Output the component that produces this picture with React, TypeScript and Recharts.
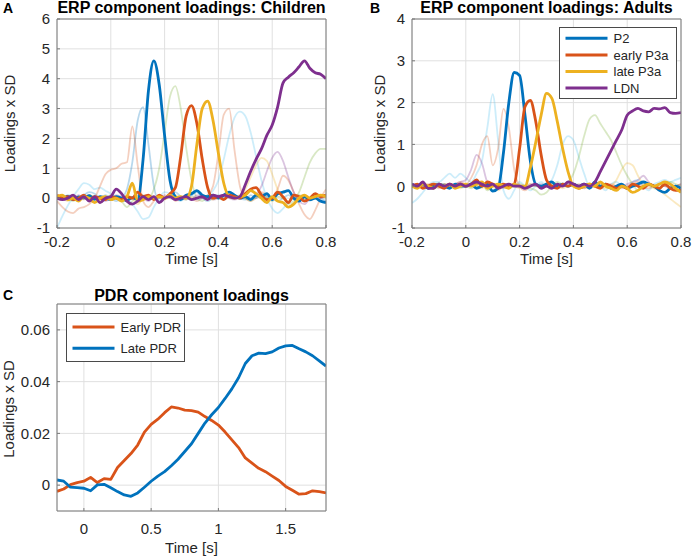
import { LineChart, Line, XAxis, YAxis, CartesianGrid } from "recharts";

const FONT = "'Liberation Sans', Arial, Helvetica, sans-serif";
const C = {
  blue: "#0072BD",
  orange: "#D95319",
  yellow: "#EDB120",
  purple: "#7E2F8E",
  green: "#77AC30",
  cyan: "#4DBEEE",
  ink: "#262626",
  grid: "#e0e0e0",
  box: "#7a7a7a",
};

// ERP time axis (s)
const tErp = [
  -0.2, -0.18, -0.16, -0.14, -0.12, -0.1, -0.08, -0.06, -0.04, -0.02,
  0, 0.02, 0.04, 0.06, 0.08, 0.1, 0.12, 0.14, 0.16, 0.18,
  0.2, 0.22, 0.24, 0.26, 0.28, 0.3, 0.32, 0.34, 0.36, 0.38,
  0.4, 0.42, 0.44, 0.46, 0.48, 0.5, 0.52, 0.54, 0.56, 0.58,
  0.6, 0.62, 0.64, 0.66, 0.68, 0.7, 0.72, 0.74, 0.76, 0.78, 0.8,
];

// Children: highlighted components
const p2Kids = [
  0.05, -0.02, 0.06, -0.05, 0.04, 0.0, 0.08, -0.04, 0.05, 0.0,
  -0.05, 0.05, 0.0, -0.08, 0.02, -0.05, 1.3, 3.6, 4.6, 3.8,
  2.1, 0.6, 0.05, -0.05, 0.1, 0.15, 0.25, 0.1, 0.05, 0.1,
  0.0, 0.1, 0.2, 0.1, 0.0, 0.05, -0.05, 0.1, 0.05, 0.15,
  -0.05, 0.15, 0.2, 0.25, 0.0, -0.1, 0.05, -0.05, 0.0, -0.1, -0.15,
];
const earlyKids = [
  0.1, 0.0, 0.05, -0.05, 0.0, 0.1, -0.05, 0.05, 0.0, -0.05,
  0.05, 0.0, -0.05, 0.05, 0.0, 0.2, 0.05, 0.1, -0.05, 0.1,
  0.0, 0.15, 0.35, 1.4, 2.75, 3.1, 2.5, 1.3, 0.35, 0.0,
  0.05, -0.05, 0.1, 0.05, 0.0, 0.15, 0.3, 0.35, 0.1, -0.05,
  0.0, 0.2, 0.05, -0.15, 0.1, 0.05, -0.1, 0.0, 0.15, 0.05, 0.1,
];
const lateKids = [
  0.05, 0.1, -0.05, 0.0, -0.1, 0.05, 0.0, -0.15, 0.0, 0.05,
  -0.05, 0.0, -0.1, 0.05, 0.5, -0.1, -0.05, 0.05, 0.0, 0.05,
  0.0, 0.1, 0.0, 0.05, 0.0, 0.4, 1.8, 3.0, 3.25, 2.6,
  1.5, 0.5, 0.05, 0.0, 0.05, 0.1, 0.25, 0.15, 0.0, -0.15,
  0.05, -0.1, -0.15, -0.3, -0.2, 0.0, 0.1, 0.0, 0.05, 0.1, 0.05,
];
const ldnKids = [
  0.0, -0.05, 0.0, 0.1, -0.05, 0.05, -0.1, 0.05, -0.15, 0.0,
  0.05, 0.3, 0.15, -0.1, -0.2, -0.1, 0.05, -0.05, 0.05, -0.15,
  0.0, 0.05, -0.05, 0.0, 0.05, -0.05, 0.0, 0.05, -0.05, 0.1,
  0.05, 0.1, 0.05, 0.0, 0.05, 0.45, 0.9, 1.3, 1.65, 2.1,
  2.45, 3.05, 3.85, 4.05, 4.2, 4.4, 4.6, 4.35, 4.2, 4.15, 4.0,
];
// Children: other components (faint)
const cyanKids = [
  -1.0, -0.6, -0.25, 0.05, 0.3, 0.5, 0.45, 0.3, 0.35, 0.25,
  0.15, 0.0, -0.1, -0.05, -0.2, -0.45, -0.7, -0.65, -0.3, 0.0,
  0.2, 0.15, 0.0, -0.1, 0.05, 0.1, -0.05, 0.0, 0.1, 0.25,
  0.6, 1.3, 2.1, 2.7, 2.9, 2.75, 2.2, 1.4, 0.6, 0.0,
  -0.35, -0.5, -0.35, -0.15, 0.0, 0.1, 0.0, -0.1, 0.05, 0.1, 0.0,
];
const blueKids = [
  0.1, 0.0, 0.1, 0.05, -0.05, 0.1, 0.2, 0.15, 0.0, 0.1,
  0.0, -0.1, 0.0, 0.3, 1.2, 2.6, 3.05, 1.8, 0.4, -0.1,
  0.0, 0.1, 0.2, 0.05, -0.05, 0.1, 0.2, 0.0, -0.1, 0.0,
  0.1, 0.0, 0.05, 0.1, 0.0, -0.05, 0.1, 0.0, 0.15, 0.05,
  0.0, -0.1, 0.0, 0.1, 0.0, 0.05, -0.05, 0.0, 0.1, 0.0, -0.1,
];
const pinkKids = [
  -0.1, -0.3, -0.45, -0.5, -0.35, -0.3, -0.2, 0.0, 0.4, 0.8,
  0.95, 1.0, 1.15, 1.2, 2.4, 1.1, -0.1, -0.3, -0.1, 0.1,
  0.0, 0.1, -0.1, 0.0, 0.1, 0.0, -0.1, 0.0, 0.1, 0.4,
  1.5, 2.8, 3.0, 1.6, 0.4, 0.0, -0.1, 0.0, 0.2, 0.1,
  0.0, 0.3, 0.75, 0.6, 0.2, -0.2, -0.55, -0.7, -0.4, 0.0, 0.3,
];
const greenKids = [
  0.05, 0.1, 0.0, -0.1, 0.05, 0.0, 0.1, 0.05, -0.05, 0.0,
  0.1, 0.05, -0.1, -0.3, -0.1, 0.05, 0.1, 0.0, 0.3, 1.0,
  2.2, 3.4, 3.75, 3.0, 1.7, 0.6, 0.0, -0.1, 0.05, 0.1,
  0.0, -0.05, 0.1, 0.0, 0.05, 0.0, -0.1, 0.05, 0.1, 0.0,
  -0.1, 0.05, 0.0, -0.2, -0.1, 0.2, 0.7, 1.2, 1.5, 1.65, 1.65,
];
const mauveKids = [
  0.0, 0.05, -0.05, 0.0, 0.1, 0.0, -0.05, 0.05, 0.0, -0.1,
  0.0, 0.1, 0.05, -0.05, 0.0, 0.1, 0.0, -0.1, 0.05, 0.0,
  0.1, 0.0, -0.05, 0.05, 0.0, -0.05, 0.1, 0.0, 0.05, -0.05,
  0.0, 0.1, 0.0, -0.05, 0.0, 0.05, 0.0, 0.1, 0.4, 0.9,
  1.35, 1.55, 1.25, 0.7, 0.2, -0.1, -0.2, 0.0, 0.1, 0.0, 0.05,
];
const sandKids = [
  0.1, 0.0, -0.1, 0.05, 0.0, -0.05, 0.1, 0.0, -0.1, 0.05,
  0.0, 0.05, -0.05, 0.1, 0.0, -0.2, 0.0, 0.1, 0.05, 0.0,
  -0.05, 0.05, 0.1, 0.0, -0.05, 0.05, 0.0, 0.1, 0.0, -0.05,
  0.05, 0.0, 0.1, 0.05, 0.1, 0.3, 0.7, 1.1, 1.35, 1.25,
  0.8, 0.3, 0.0, -0.1, 0.05, 0.1, 0.0, -0.05, 0.1, 0.05, 0.0,
];

// Adults: highlighted components
const p2Adults = [
  0.05, 0.0, 0.05, -0.05, 0.0, 0.05, 0.0, -0.05, 0.05, 0.0,
  0.0, 0.05, -0.05, 0.0, 0.05, -0.12, -0.05, 0.8, 2.0, 2.72,
  2.65, 1.7, 0.6, 0.05, 0.0, 0.05, 0.1, 0.0, 0.05, 0.0,
  0.05, 0.0, 0.05, -0.05, 0.1, 0.0, 0.05, -0.05, 0.0, 0.05,
  -0.05, 0.0, 0.05, 0.1, 0.05, 0.0, -0.1, -0.15, -0.05, 0.0, -0.05,
];
const earlyAdults = [
  0.0, 0.05, -0.05, 0.0, 0.05, 0.0, -0.05, 0.05, 0.0, 0.05,
  0.0, 0.05, 0.15, 0.0, 0.1, 0.05, 0.0, 0.05, 0.0, 0.05,
  0.9, 1.9, 2.05, 1.55, 0.75, 0.15, 0.0, -0.05, 0.05, 0.0,
  0.05, -0.05, 0.0, 0.05, 0.0, -0.05, 0.05, 0.0, -0.05, 0.0,
  -0.05, 0.05, 0.0, -0.05, 0.05, 0.0, -0.05, 0.05, -0.05, -0.1, -0.1,
];
const lateAdults = [
  0.0, -0.05, 0.05, 0.0, -0.05, 0.05, 0.0, 0.05, -0.05, 0.0,
  0.05, 0.0, 0.05, 0.1, -0.05, 0.0, 0.05, 0.0, -0.05, 0.05,
  0.0, 0.0, 0.45, 1.05, 1.7, 2.22, 2.1, 1.55, 0.9, 0.35,
  0.0, -0.05, 0.0, 0.05, 0.0, 0.1, 0.0, -0.05, -0.1, 0.0,
  -0.05, -0.15, -0.1, 0.0, 0.05, 0.0, 0.05, 0.1, 0.05, -0.05, -0.15,
];
const ldnAdults = [
  0.05, 0.0, 0.1, -0.05, -0.05, 0.05, 0.0, 0.05, 0.0, 0.05,
  0.0, 0.05, 0.1, 0.05, 0.0, 0.05, -0.05, 0.0, 0.05, 0.0,
  0.0, -0.05, 0.0, 0.05, -0.05, 0.0, -0.05, 0.05, 0.0, 0.1,
  0.05, 0.0, 0.05, 0.0, 0.1, 0.35, 0.6, 0.85, 1.1, 1.35,
  1.7, 1.8, 1.86, 1.8, 1.78, 1.86, 1.85, 1.88, 1.76, 1.74, 1.76,
];
// Adults: other components (faint)
const cyanAdults = [
  -0.4, -0.3, -0.15, 0.0, 0.1, 0.1, 0.2, 0.3, 0.2, 0.3,
  0.2, 0.1, 0.3, 0.6, 1.4, 2.2, 1.1, -0.1, -0.3, -0.1,
  0.1, 0.0, -0.1, 0.0, 0.1, 0.0, 0.15, 0.5, 1.0, 1.2,
  1.1, 0.7, 0.3, 0.0, 0.05, 0.0, -0.1, 0.05, 0.1, 0.0,
  -0.05, 0.1, 0.15, 0.0, -0.1, 0.05, 0.1, 0.15, 0.1, 0.15, 0.2,
];
const pinkAdults = [
  0.0, 0.05, 0.0, 0.05, 0.0, -0.05, 0.05, 0.0, 0.05, 0.1,
  0.05, 0.2, 0.5, 1.0, 1.2, 0.5, 0.9, 1.85, 1.4, 0.4,
  0.0, -0.1, 0.0, 0.05, 0.0, 0.05, 0.0, -0.05, 0.0, 0.05,
  0.0, 0.05, 0.0, -0.05, 0.0, 0.05, 0.0, 0.05, 0.0, -0.05,
  0.0, 0.05, 0.1, 0.0, -0.05, 0.0, 0.05, 0.0, 0.05, 0.0, 0.05,
];
const mauveAdults = [
  0.0, 0.05, 0.0, -0.05, 0.05, 0.0, 0.05, 0.0, 0.05, 0.1,
  0.15, 0.4, 0.75, 0.55, 0.1, 0.0, 0.05, -0.05, 0.0, 0.05,
  0.0, -0.05, 0.05, 0.0, 0.05, 0.0, -0.05, 0.0, 0.05, 0.0,
  0.05, 0.0, -0.05, 0.0, 0.05, 0.0, 0.05, 0.0, -0.05, 0.0,
  0.05, 0.1, 0.15, 0.25, 0.1, 0.0, 0.05, 0.0, -0.05, 0.0, 0.05,
];
const greenAdults = [
  0.0, -0.05, 0.05, 0.0, -0.05, 0.0, 0.05, 0.0, -0.05, 0.05,
  0.0, -0.05, 0.0, 0.05, -0.1, 0.0, 0.05, 0.0, -0.05, 0.0,
  0.05, 0.0, -0.05, -0.1, -0.2, -0.15, 0.0, 0.1, 0.05, 0.1,
  0.3, 0.7, 1.2, 1.6, 1.7, 1.5, 1.3, 1.1, 0.8, 0.5,
  0.25, 0.05, -0.1, 0.0, 0.05, 0.0, -0.05, 0.05, 0.1, 0.05, 0.0,
];
const sandAdults = [
  0.05, 0.0, -0.05, 0.0, 0.05, 0.0, -0.05, 0.05, 0.0, -0.05,
  0.0, 0.05, 0.0, -0.05, 0.05, 0.0, -0.1, 0.0, 0.05, 0.0,
  -0.05, 0.0, 0.05, 0.0, -0.05, 0.0, 0.05, 0.0, -0.05, 0.0,
  0.05, 0.0, -0.05, 0.0, 0.05, 0.0, -0.05, 0.0, 0.15, 0.4,
  0.55, 0.5, 0.25, 0.05, 0.0, -0.05, -0.1, -0.2, -0.3, -0.4, -0.5,
];

// PDR
const tPdr = [
  -0.2, -0.15, -0.1, -0.05, 0, 0.05, 0.1, 0.15, 0.2, 0.25,
  0.3, 0.35, 0.4, 0.45, 0.5, 0.55, 0.6, 0.65, 0.7, 0.75,
  0.8, 0.85, 0.9, 0.95, 1, 1.05, 1.1, 1.15, 1.2, 1.25,
  1.3, 1.35, 1.4, 1.45, 1.5, 1.55, 1.6, 1.65, 1.7, 1.75, 1.8,
];
const earlyPdr = [
  -0.0024, -0.0015, 0.0002, 0.001, 0.0015, 0.003, 0.001, 0.0025, 0.0022, 0.0068,
  0.0095, 0.0122, 0.0155, 0.0205, 0.0235, 0.0255, 0.028, 0.0302, 0.0298, 0.029,
  0.0288, 0.0282, 0.0265, 0.025, 0.0232, 0.0205, 0.0175, 0.0145, 0.0105, 0.0085,
  0.0065, 0.0052, 0.0035, 0.0018, -0.0005, -0.002, -0.0035, -0.0033, -0.0022, -0.0025, -0.003,
];
const latePdr = [
  0.002, 0.0015, -0.0008, -0.001, -0.0012, -0.0022, 0.0001, 0.0003, -0.001, -0.0025,
  -0.0038, -0.0043, -0.003, -0.0008, 0.0015, 0.0035, 0.0052, 0.0075, 0.01, 0.013,
  0.016, 0.02, 0.024, 0.0272, 0.03, 0.0335, 0.0372, 0.0415, 0.047, 0.05,
  0.051, 0.0508, 0.0515, 0.053, 0.0538, 0.054, 0.0527, 0.0515, 0.05, 0.048, 0.046,
];

const erpTicksX = [-0.2, 0, 0.2, 0.4, 0.6, 0.8];
const kidsTicksY = [-1, 0, 1, 2, 3, 4, 5, 6];
const adultTicksY = [-1, 0, 1, 2, 3, 4];
const pdrTicksX = [0, 0.5, 1, 1.5];
const pdrTicksY = [0, 0.02, 0.04, 0.06];

const erpLegend = ["P2", "early P3a", "late P3a", "LDN"];
const erpColors = [C.blue, C.orange, C.yellow, C.purple];
const pdrLegend = ["Early PDR", "Late PDR"];
const pdrColors = [C.orange, C.blue];

type S = { key: string; color: string; values: number[] };

function rows(t: number[], series: S[]) {
  return t.map((x, i) => {
    const r: Record<string, number> = { t: x };
    series.forEach((s) => (r[s.key] = s.values[i]));
    return r;
  });
}

const kidsFaint: S[] = [
  { key: "k1", color: C.cyan, values: cyanKids },
  { key: "k2", color: C.blue, values: blueKids },
  { key: "k3", color: C.orange, values: pinkKids },
  { key: "k4", color: C.green, values: greenKids },
  { key: "k5", color: C.purple, values: mauveKids },
  { key: "k6", color: C.yellow, values: sandKids },
];
const kidsBold: S[] = [
  { key: "p2", color: C.blue, values: p2Kids },
  { key: "early", color: C.orange, values: earlyKids },
  { key: "late", color: C.yellow, values: lateKids },
  { key: "ldn", color: C.purple, values: ldnKids },
];
const adultFaint: S[] = [
  { key: "a1", color: C.cyan, values: cyanAdults },
  { key: "a2", color: C.orange, values: pinkAdults },
  { key: "a3", color: C.purple, values: mauveAdults },
  { key: "a4", color: C.green, values: greenAdults },
  { key: "a5", color: C.yellow, values: sandAdults },
];
const adultBold: S[] = [
  { key: "p2", color: C.blue, values: p2Adults },
  { key: "early", color: C.orange, values: earlyAdults },
  { key: "late", color: C.yellow, values: lateAdults },
  { key: "ldn", color: C.purple, values: ldnAdults },
];
const pdrBold: S[] = [
  { key: "early", color: C.orange, values: earlyPdr },
  { key: "late", color: C.blue, values: latePdr },
];

const tickStyle = { fill: C.ink, fontSize: 15, fontFamily: FONT };

interface PanelProps {
  left: number;
  top: number;
  height: number;
  yWidth: number;
  marginTop: number;
  marginRight: number;
  plotHeight: number;
  t: number[];
  faint: S[];
  bold: S[];
  xDomain: [number, number];
  xTicks: number[];
  yDomain: [number, number];
  yTicks: number[];
  xGap: number;
  curve: "monotone" | "linear";
}

function Panel(p: PanelProps) {
  const data = rows(p.t, [...p.faint, ...p.bold]);
  const xh = p.height - p.marginTop - 1 - p.plotHeight;
  return (
    <div style={{ position: "absolute", left: p.left, top: p.top }}>
      <LineChart
        width={346}
        height={p.height}
        data={data}
        margin={{ top: p.marginTop, right: p.marginRight, left: 0, bottom: 0 }}
      >
        <CartesianGrid stroke={C.grid} strokeWidth={1} />
        <XAxis
          dataKey="t"
          type="number"
          domain={p.xDomain}
          ticks={p.xTicks}
          interval={0}
          allowDataOverflow
          height={xh}
          stroke={C.box}
          tickSize={-3}
          tickMargin={p.xGap + 3}
          tick={tickStyle}
        />
        <XAxis
          xAxisId="top"
          orientation="top"
          dataKey="t"
          type="number"
          domain={p.xDomain}
          ticks={p.xTicks}
          interval={0}
          allowDataOverflow
          height={1}
          stroke={C.box}
          tickSize={-3}
          tick={false}
        />
        <YAxis
          type="number"
          domain={p.yDomain}
          ticks={p.yTicks}
          interval={0}
          allowDataOverflow
          width={p.yWidth}
          stroke={C.box}
          tickSize={-3}
          tickMargin={10}
          tick={tickStyle}
        />
        <YAxis
          yAxisId="right"
          orientation="right"
          type="number"
          domain={p.yDomain}
          ticks={p.yTicks}
          interval={0}
          allowDataOverflow
          width={1}
          stroke={C.box}
          tickSize={-3}
          tick={false}
        />
        {p.faint.map((s) => (
          <Line
            key={s.key}
            dataKey={s.key}
            type={p.curve}
            stroke={s.color}
            strokeOpacity={0.28}
            strokeWidth={1.8}
            dot={false}
            activeDot={false}
            isAnimationActive={false}
          />
        ))}
        {p.bold.map((s) => (
          <Line
            key={s.key}
            dataKey={s.key}
            type={p.curve}
            stroke={s.color}
            strokeWidth={2.8}
            strokeLinejoin="round"
            dot={false}
            activeDot={false}
            isAnimationActive={false}
          />
        ))}
      </LineChart>
    </div>
  );
}

function LegendBox({ x, y, w, h, rowY, labels, colors }: {
  x: number; y: number; w: number; h: number; rowY: number[]; labels: string[]; colors: string[];
}) {
  return (
    <g>
      <rect x={x} y={y} width={w} height={h} fill="#fff" stroke="#4a4a4a" strokeWidth={1} />
      {labels.map((l, i) => (
        <g key={l}>
          <line x1={x + 6} x2={x + 48} y1={rowY[i]} y2={rowY[i]} stroke={colors[i]} strokeWidth={3} />
          <text x={x + 54} y={rowY[i] + 4.6} fontSize={13} fill={C.ink}>{l}</text>
        </g>
      ))}
    </g>
  );
}

export default function App() {
  return (
    <div style={{ position: "absolute", left: 0, top: 0, width: 692, height: 558, background: "#fff", fontFamily: FONT }}>
      <Panel
        left={0} top={0} height={260} yWidth={57} marginTop={18} marginRight={19} plotHeight={209}
        t={tErp} faint={kidsFaint} bold={kidsBold}
        xDomain={[-0.2, 0.8]} xTicks={erpTicksX} yDomain={[-1, 6]} yTicks={kidsTicksY}
        xGap={8} curve="monotone"
      />
      <Panel
        left={346} top={0} height={260} yWidth={66} marginTop={18} marginRight={10} plotHeight={209}
        t={tErp} faint={adultFaint} bold={adultBold}
        xDomain={[-0.2, 0.8]} xTicks={erpTicksX} yDomain={[-1, 4]} yTicks={adultTicksY}
        xGap={8} curve="monotone"
      />
      <Panel
        left={0} top={279} height={279} yWidth={57} marginTop={24} marginRight={19} plotHeight={207}
        t={tPdr} faint={[]} bold={pdrBold}
        xDomain={[-0.2, 1.8]} xTicks={pdrTicksX} yDomain={[-0.01, 0.07]} yTicks={pdrTicksY}
        xGap={12} curve="linear"
      />
      <svg width={692} height={558} style={{ position: "absolute", left: 0, top: 0, pointerEvents: "none" }} fontFamily={FONT}>
        <g fontWeight="bold" fill="#000">
          <text x={3} y={12.5} fontSize={14}>A</text>
          <text x={370} y={12.5} fontSize={14}>B</text>
          <text x={3} y={300} fontSize={14}>C</text>
          <text x={191.5} y={13} fontSize={16} textAnchor="middle">ERP component loadings: Children</text>
          <text x={546.5} y={13} fontSize={16} textAnchor="middle">ERP component loadings: Adults</text>
          <text x={191.5} y={301} fontSize={16} textAnchor="middle">PDR component loadings</text>
        </g>
        <g fontSize={15} fill={C.ink} textAnchor="middle">
          <text x={191.5} y={264}>Time [s]</text>
          <text x={546.5} y={264}>Time [s]</text>
          <text x={191.5} y={553}>Time [s]</text>
          <text transform="translate(15,123.5) rotate(-90)">Loadings x SD</text>
          <text transform="translate(385,123.5) rotate(-90)">Loadings x SD</text>
          <text transform="translate(14,409) rotate(-90)">Loadings x SD</text>
        </g>
        <LegendBox x={559.5} y={27.5} w={117} h={71} rowY={[38.3, 54.9, 71.5, 88.1]} labels={erpLegend} colors={erpColors} />
        <LegendBox x={66.5} y={313.5} w={118} h={48} rowY={[327, 348.3]} labels={pdrLegend} colors={pdrColors} />
      </svg>
    </div>
  );
}
